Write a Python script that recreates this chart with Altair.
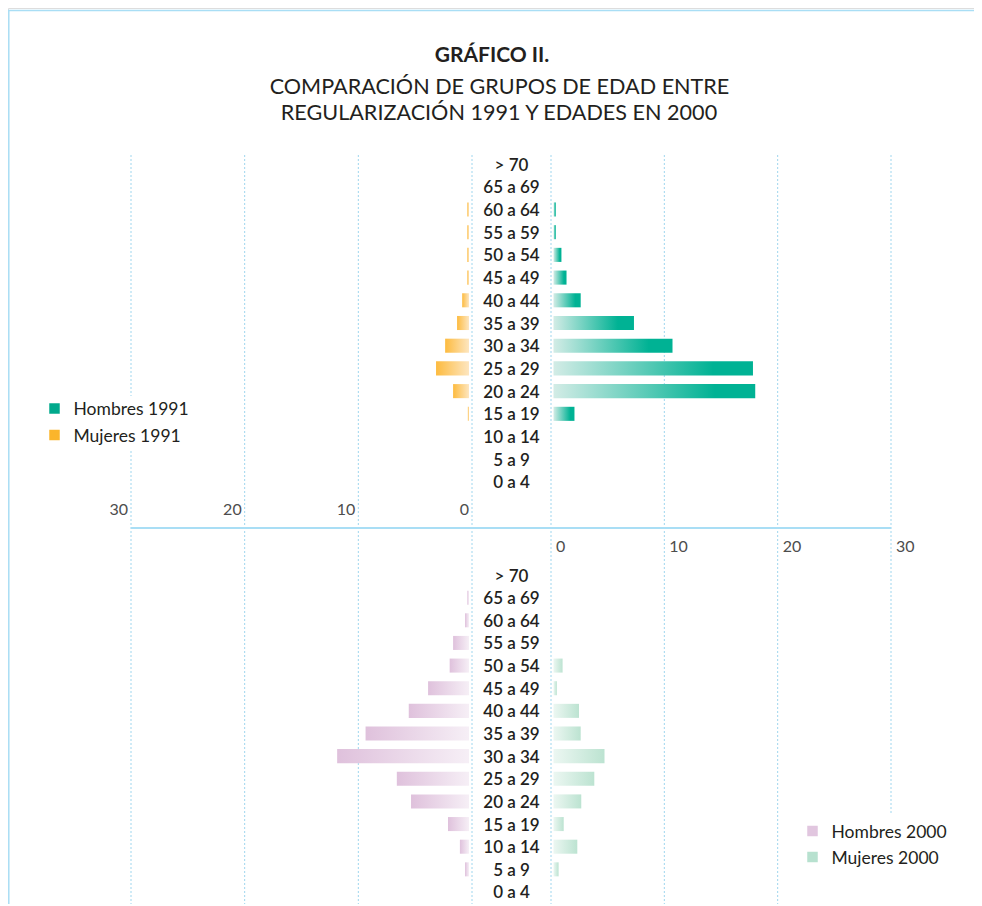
import altair as alt
import pandas as pd

# ---------------- data ----------------
ages = ["> 70", "65 a 69", "60 a 64", "55 a 59", "50 a 54", "45 a 49", "40 a 44",
        "35 a 39", "30 a 34", "25 a 29", "20 a 24", "15 a 19", "10 a 14", "5 a 9", "0 a 4"]

hombres_1991 = [0, 0, 0.2, 0.2, 0.7, 1.15, 2.4, 7.1, 10.5, 17.6, 17.8, 1.85, 0, 0, 0]
mujeres_1991 = [0, 0, 0.15, 0.15, 0.15, 0.15, 0.6, 1.05, 2.1, 2.9, 1.4, 0.1, 0, 0, 0]
hombres_2000 = [0, 0.15, 0.35, 1.4, 1.7, 3.6, 5.3, 9.1, 11.6, 6.35, 5.1, 1.85, 0.8, 0.35, 0]
mujeres_2000 = [0, 0, 0, 0, 0.8, 0.3, 2.25, 2.4, 4.5, 3.6, 2.45, 0.9, 2.1, 0.45, 0]

ticks_left = [30, 20, 10, 0]
ticks_right = [0, 10, 20, 30]

title_lines = ["GRÁFICO II.", "COMPARACIÓN DE GRUPOS DE EDAD ENTRE",
               "REGULARIZACIÓN 1991 Y EDADES EN 2000"]
legend_1991 = ["Hombres 1991", "Mujeres 1991"]
legend_1991_colors = ["#00a98c", "#fbb52b"]
legend_2000 = ["Hombres 2000", "Mujeres 2000"]
legend_2000_colors = ["#e1c6df", "#b7e1cf"]

# ---------------- style ----------------
FONT = "Lato"
TEXT = "#231f20"
AXIS_TXT = "#4d4d4d"
GRID = "#9fd6ee"
FRAME = "#a9def5"
W, H = 966, 896
OX, OY = 8, 8


def px(v):
    return v - OX


def py(v):
    return v - OY


x_left = alt.Scale(domain=[0, 30], range=[px(472), px(131)])
x_right = alt.Scale(domain=[0, 30], range=[px(551), px(891)])
y_top = alt.Scale(domain=ages, range=[py(152.7), py(493.3)], paddingInner=0.38, paddingOuter=0.19)
y_bot = alt.Scale(domain=ages, range=[py(563.7), py(903.3)], paddingInner=0.38, paddingOuter=0.19)


def grad(c_left, c_right, mid=None):
    stops = [alt.GradientStop(color=c_left, offset=0)]
    if mid is not None:
        stops.append(alt.GradientStop(color=mid[1], offset=mid[0]))
    stops.append(alt.GradientStop(color=c_right, offset=1))
    return alt.Gradient(gradient="linear", stops=stops, x1=0, x2=1, y1=0, y2=0)


def bars(values, xscale, yscale, fill, offset):
    df = pd.DataFrame({"age": ages, "value": values})
    return alt.Chart(df).transform_filter("datum.value > 0").mark_bar(
        fill=fill, xOffset=offset, x2Offset=offset
    ).encode(
        x=alt.X("value:Q", scale=xscale, axis=None),
        x2=alt.datum(0),
        y=alt.Y("age:N", scale=yscale, axis=None),
    )


def age_labels(yscale):
    return alt.Chart(pd.DataFrame({"age": ages})).mark_text(
        font=FONT, fontSize=17, fontWeight=600, color=TEXT, align="center", baseline="middle", dy=1.5
    ).encode(
        x=alt.value(px(511.5)),
        y=alt.Y("age:N", scale=yscale, axis=None),
        text="age:N",
    )


def gridlines(ticks, xscale):
    return alt.Chart(pd.DataFrame({"t": ticks})).mark_rule(
        color=GRID, strokeDash=[2, 2], strokeWidth=1
    ).encode(
        x=alt.X("t:Q", scale=xscale, axis=None),
        y=alt.value(py(155)),
        y2=alt.value(H),
    )


def tick_labels(ticks, xscale, ypos, align, dx):
    return alt.Chart(pd.DataFrame({"t": ticks})).mark_text(
        font=FONT, fontSize=16, color=AXIS_TXT, align=align, baseline="middle", dx=dx, dy=1.5
    ).encode(
        x=alt.X("t:Q", scale=xscale, axis=None),
        y=alt.value(ypos),
        text="t:Q",
    )


def legend(names, colors, x_sq, y_first, y_second):
    df = pd.DataFrame({"name": names})
    yscale = alt.Scale(type="point", domain=names, range=[py(y_first), py(y_second)], padding=0)
    sq = alt.Chart(df).mark_square(size=110, opacity=1).encode(
        x=alt.value(px(x_sq)),
        y=alt.Y("name:N", scale=yscale, axis=None),
        color=alt.Color("name:N", scale=alt.Scale(domain=names, range=colors), legend=None),
    )
    tx = alt.Chart(df).mark_text(
        font=FONT, fontSize=17.5, color=TEXT, align="left", baseline="middle", dy=1.5
    ).encode(
        x=alt.value(px(x_sq + 19)),
        y=alt.Y("name:N", scale=yscale, axis=None),
        text="name:N",
    )
    return [sq, tx]


one = pd.DataFrame({"a": [0]})

frame_top = alt.Chart(one).mark_rule(color=FRAME, strokeWidth=1.5).encode(
    x=alt.value(0), x2=alt.value(W), y=alt.value(py(10.5)))
frame_left = alt.Chart(one).mark_rule(color=FRAME, strokeWidth=1.5).encode(
    x=alt.value(0.8), y=alt.value(py(10.5)), y2=alt.value(H))
baseline = alt.Chart(one).mark_rule(color=FRAME, strokeWidth=2).encode(
    x=alt.value(px(131)), x2=alt.value(px(891)), y=alt.value(py(528)))

mask_top = alt.Chart(one).mark_rect(color="white").encode(
    x=alt.value(px(40)), x2=alt.value(px(205)), y=alt.value(py(396)), y2=alt.value(py(451)))
mask_bot = alt.Chart(one).mark_rect(color="white").encode(
    x=alt.value(px(795)), x2=alt.value(W), y=alt.value(py(815)), y2=alt.value(H))

titles = []
for txt, xpos, ypos, size, weight in zip(title_lines, [492, 499.5, 499], [56, 88, 114],
                                         [21, 21.6, 21.6], ["bold", "normal", "normal"]):
    titles.append(
        alt.Chart(pd.DataFrame({"t": [txt]})).mark_text(
            font=FONT, fontSize=size, fontWeight=weight, color=TEXT, align="center", baseline="middle"
        ).encode(x=alt.value(px(xpos)), y=alt.value(py(ypos)), text="t:N")
    )

layers = [
    frame_top, frame_left,
    gridlines(ticks_left, x_left), gridlines(ticks_right, x_right),
    mask_top, mask_bot,
    baseline,
    bars(mujeres_1991, x_left, y_top, grad("#fdbb3f", "#fde6c0"), -3),
    bars(hombres_1991, x_right, y_top, grad("#d3ece6", "#00b294", (0.8, "#00b294")), 2.5),
    bars(hombres_2000, x_left, y_bot, grad("#dfc1dc", "#f6eff6"), -3),
    bars(mujeres_2000, x_right, y_bot, grad("#ecf7f2", "#bce3d1"), 2.5),
    age_labels(y_top), age_labels(y_bot),
    tick_labels(ticks_left, x_left, py(508), "right", -3),
    tick_labels(ticks_right, x_right, py(545), "left", 5),
    *legend(legend_1991, legend_1991_colors, 54.5, 408.5, 435),
    *legend(legend_2000, legend_2000_colors, 812.5, 831, 857),
    *titles,
]

chart = alt.layer(*layers).resolve_scale(
    x="independent", y="independent", color="independent"
).properties(
    width=W, height=H, autosize=alt.AutoSizeParams(type="none"), padding=0
).configure_view(stroke=None).configure(background="white")

chart.save("out.html", embed_options={"renderer": "svg", "actions": False})
